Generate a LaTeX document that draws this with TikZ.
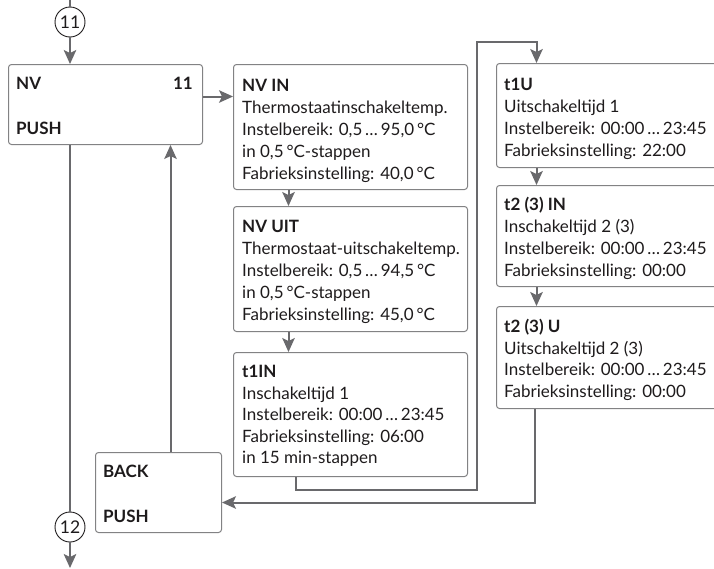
\documentclass[tikz,border=0pt]{standalone}
\usepackage{fontspec}
\setmainfont{Lato}
\usetikzlibrary{arrows.meta}
\definecolor{linegray}{RGB}{105,105,108}
\definecolor{boxgray}{RGB}{130,130,132}
\definecolor{txtc}{RGB}{30,27,28}
\newcommand\tline[4]{\node[txtnode,anchor=base west] (#1) at (#2,#3) {#4};}
\begin{document}
\begin{tikzpicture}[x=1pt,y=-1pt,
  box/.style={draw=boxgray,line width=1pt,rounded corners=3pt,inner sep=0pt,anchor=north west},
  txtnode/.style={text=txtc,inner sep=0pt,font=\fontsize{17}{20}\selectfont},
  conn/.style={draw=linegray,line width=2pt},
  arr/.style={conn,-{Stealth[length=14pt,width=12.5pt,inset=3pt]}},
  circ/.style={circle,draw=txtc,line width=0.9pt,minimum size=30pt,inner sep=0pt,text=txtc,font=\fontsize{17.5}{20}\selectfont}]
\useasboundingbox (0,0) rectangle (714,568);
\clip (0,0) rectangle (714,568);
\fill[white] (0,0) rectangle (714,568);

% boxes
\node[box,minimum width=194pt,minimum height=80pt] (nv) at (8,64) {};
\node[box,minimum width=234pt,minimum height=125pt] (nvin) at (233,64) {};
\node[box,minimum width=234pt,minimum height=125pt] (nvuit) at (233,206) {};
\node[box,minimum width=234pt,minimum height=124pt] (t1in) at (233,352) {};
\node[box,minimum width=260pt,minimum height=104pt] (t1u) at (496,63) {};
\node[box,minimum width=260pt,minimum height=101pt] (t2in) at (496,185) {};
\node[box,minimum width=260pt,minimum height=102pt] (t2u) at (496,306) {};
\node[box,minimum width=126pt,minimum height=80pt] (back) at (95,452) {};

% circles
\node[circ] (c11) at (70,22) {11};
\node[circ] (c12) at (70,527) {12};
\coordinate (top) at (70,0);
\coordinate (bot) at (70,568);

% texts
\tline{nv1}{16}{89}{\bfseries NV}
\node[txtnode,anchor=base east] (nv2) at (193,89) {\bfseries 11};
\tline{nv3}{16}{134}{\bfseries PUSH}

\tline{a1}{242}{91}{\bfseries NV IN}
\tline{a2}{242}{113}{Thermostaatinschakeltemp.}
\tline{a3}{242}{135}{Instelbereik: 0,5\,…\,95,0\,°C}
\tline{a4}{242}{157}{in 0,5\,°C-stappen}
\tline{a5}{242}{179}{Fabrieksinstelling: 40,0\,°C}

\tline{b1}{242}{232}{\bfseries NV UIT}
\tline{b2}{242}{254}{Thermostaat-uitschakeltemp.}
\tline{b3}{242}{276}{Instelbereik: 0,5\,…\,94,5\,°C}
\tline{b4}{242}{298}{in 0,5\,°C-stappen}
\tline{b5}{242}{320}{Fabrieksinstelling: 45,0\,°C}

\tline{c1}{242}{377}{\bfseries t1IN}
\tline{c2}{242}{399}{Inschakeltijd 1}
\tline{c3}{242}{420}{Instelbereik: 00:00\,…\,23:45}
\tline{c4}{242}{442}{Fabrieksinstelling: 06:00}
\tline{c5}{242}{463}{in 15 min-stappen}

\tline{d1}{504}{90}{\bfseries t1U}
\tline{d2}{504}{112}{Uitschakeltijd 1}
\tline{d3}{504}{134}{Instelbereik: 00:00\,…\,23:45}
\tline{d4}{504}{156}{Fabrieksinstelling: 22:00}

\tline{e1}{504}{210}{\bfseries t2 (3) IN}
\tline{e2}{504}{232}{Inschakeltijd 2 (3)}
\tline{e3}{504}{254}{Instelbereik: 00:00\,…\,23:45}
\tline{e4}{504}{276}{Fabrieksinstelling: 00:00}

\tline{f1}{504}{332}{\bfseries t2 (3) U}
\tline{f2}{504}{354}{Uitschakeltijd 2 (3)}
\tline{f3}{504}{375}{Instelbereik: 00:00\,…\,23:45}
\tline{f4}{504}{397}{Fabrieksinstelling: 00:00}

\tline{g1}{103}{477}{\bfseries BACK}
\tline{g2}{103}{522}{\bfseries PUSH}

% connectors
\coordinate (r1) at (477,490);
\coordinate (r2) at (477,42);
\draw[conn] (top) -- (c11.north);
\draw[arr] (c11.south) -- (c11.south |- nv.north);
\draw[arr] ([yshift=8pt]nv.east) -- ([yshift=8pt]nv.east -| nvin.west);
\draw[arr] ([xshift=-62pt]nvin.south) -- ([xshift=-62pt]nvuit.north);
\draw[arr] ([xshift=-62pt]nvuit.south) -- ([xshift=-62pt]t1in.north);
\draw[arr] ([xshift=-55pt]t1in.south) |- (r1) -- (r2) -| ([xshift=-90pt]t1u.north);
\draw[arr] ([xshift=-90pt]t1u.south) -- ([xshift=-90pt]t2in.north);
\draw[arr] ([xshift=-90pt]t2in.south) -- ([xshift=-90pt]t2u.north);
\draw[arr] ([xshift=-92pt]t2u.south) |- ([yshift=-10pt]back.east);
\draw[arr] ([xshift=12pt]back.north) -- ([xshift=12pt]back.north |- nv.south);
\draw[conn] (c12.north |- nv.south) -- (c12.north);
\draw[arr] (c12.south) -- (bot);
\end{tikzpicture}
\end{document}
